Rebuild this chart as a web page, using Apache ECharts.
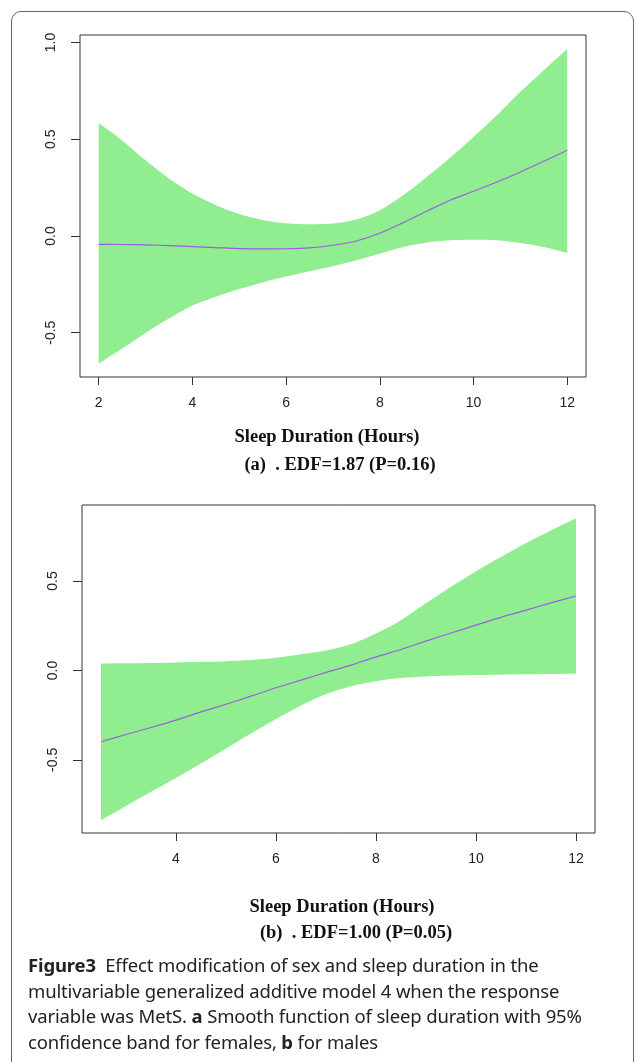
<!DOCTYPE html>
<html>
<head>
<meta charset="utf-8">
<script src="https://cdn.jsdelivr.net/npm/echarts@6/dist/echarts.min.js"></script>
<style>
  html, body { margin: 0; padding: 0; background: #fff; }
  #wrap { position: relative; width: 636px; height: 1062px; overflow: hidden; background: #fff; }
  #chart { position: absolute; left: 0; top: 0; width: 636px; height: 1062px; }
  #frame { position: absolute; left: 11px; top: 11px; width: 621px; height: 1100px;
           border: 1.5px solid #666; border-radius: 10px; pointer-events: none; }
  #caption { position: absolute; left: 28px; top: 952px; font-family: "Noto Sans", sans-serif;
             font-size: 18.5px; line-height: 25.5px; color: #222; white-space: nowrap; letter-spacing: -0.15px; }
</style>
</head>
<body>
<div id="wrap">
  <div id="frame"></div>
  <div id="chart"></div>
  <div id="caption"><b>Figure3</b>&nbsp; Effect modification of sex and sleep duration in the<br>multivariable generalized additive model 4 when the response<br>variable was MetS. <b>a</b> Smooth function of sleep duration with 95%<br>confidence band for females, <b>b</b> for males</div>
</div>
<script>
// ---- Panel (a): females ----
const hoursA = [2, 2.5, 3, 3.5, 4, 4.5, 5, 5.5, 6, 6.5, 7, 7.5, 8, 8.5, 9, 9.5, 10, 10.5, 11, 11.5, 12];
const fitA   = [-0.043, -0.044, -0.046, -0.050, -0.055, -0.060, -0.065, -0.067, -0.066, -0.061, -0.048, -0.026, 0.014, 0.069, 0.128, 0.185, 0.231, 0.279, 0.331, 0.386, 0.443];
const upperA = [0.584, 0.494, 0.391, 0.297, 0.219, 0.159, 0.114, 0.083, 0.066, 0.061, 0.064, 0.085, 0.133, 0.210, 0.305, 0.405, 0.512, 0.624, 0.745, 0.857, 0.968];
const lowerA = [-0.660, -0.582, -0.501, -0.427, -0.360, -0.314, -0.274, -0.240, -0.210, -0.182, -0.156, -0.126, -0.091, -0.057, -0.034, -0.022, -0.019, -0.022, -0.036, -0.057, -0.088];
const xTicksA = [2, 4, 6, 8, 10, 12];
const yTicksA = [-0.5, 0.0, 0.5, 1.0];

// ---- Panel (b): males ----
const hoursB = [2.5, 3, 3.5, 4, 4.5, 5, 5.5, 6, 6.5, 7, 7.5, 8, 8.5, 9, 9.5, 10, 10.5, 11, 11.5, 12];
const fitB   = [-0.399, -0.358, -0.319, -0.278, -0.232, -0.189, -0.144, -0.097, -0.054, -0.011, 0.030, 0.076, 0.117, 0.164, 0.209, 0.253, 0.297, 0.337, 0.378, 0.416];
const upperB = [0.039, 0.040, 0.042, 0.045, 0.048, 0.052, 0.058, 0.071, 0.091, 0.112, 0.147, 0.207, 0.281, 0.375, 0.468, 0.555, 0.634, 0.712, 0.783, 0.851];
const lowerB = [-0.838, -0.758, -0.679, -0.601, -0.521, -0.437, -0.353, -0.272, -0.196, -0.132, -0.088, -0.060, -0.043, -0.034, -0.029, -0.026, -0.024, -0.022, -0.020, -0.017];
const xTicksB = [4, 6, 8, 10, 12];
const yTicksB = [-0.5, 0.0, 0.5];

const xTitle = 'Sleep Duration (Hours)';
const subA = '(a)  . EDF=1.87 (P=0.16)';
const subB = '(b)  . EDF=1.00 (P=0.05)';

const BAND = '#90EE90';
const LINE = '#9a5ee0';
const AXIS = '#333';
const tickFont = { fontFamily: 'Liberation Sans', fontSize: 14, color: '#222' };

function pairs(xs, ys) { return xs.map((x, i) => [x, ys[i]]); }

function xAxis(grid, min, max, ticks) {
  return {
    type: 'value', gridIndex: grid, min: min, max: max,
    axisLine: { show: false, onZero: false }, splitLine: { show: false },
    axisTick: { show: true, customValues: ticks, length: 8, lineStyle: { color: AXIS, width: 1 } },
    axisLabel: Object.assign({ customValues: ticks, margin: 19, formatter: v => String(v) }, tickFont)
  };
}
function yAxis(grid, min, max, ticks) {
  return {
    type: 'value', gridIndex: grid, min: min, max: max,
    axisLine: { show: false, onZero: false }, splitLine: { show: false },
    axisTick: { show: true, customValues: ticks, length: 9, lineStyle: { color: AXIS, width: 1 } },
    axisLabel: Object.assign({ customValues: ticks, margin: 22, rotate: 90, formatter: v => v.toFixed(1) }, tickFont)
  };
}
function bandSeries(idx, xs, up, lo, fit) {
  return [
    { type: 'custom', xAxisIndex: idx, yAxisIndex: idx, silent: true, z: 1,
      data: xs.map((x, i) => [x, lo[i], up[i]]),
      encode: { x: 0, y: [1, 2] },
      renderItem: function (params, api) {
        if (params.dataIndex !== 0) return null;
        const n = xs.length, pts = [];
        // upper edge (ends doubled so the smoothed outline keeps sharp vertical ends)
        for (let j = 0; j < n; j++) {
          const p = api.coord([xs[j], up[j]]);
          pts.push(p);
          if (j === 0 || j === n - 1) pts.push(p.slice());
        }
        for (let j = n - 1; j >= 0; j--) {
          const p = api.coord([xs[j], lo[j]]);
          pts.push(p);
          if (j === 0 || j === n - 1) pts.push(p.slice());
        }
        return { type: 'polygon', shape: { points: pts, smooth: 0.3 }, style: { fill: BAND, stroke: null } };
      }
    },
    { type: 'line', xAxisIndex: idx, yAxisIndex: idx, data: pairs(xs, fit), symbol: 'none', smooth: 0.3,
      lineStyle: { color: LINE, width: 1.2 }, silent: true, z: 3 }
  ];
}
function label(text, x, y) {
  return { type: 'text', x: x, y: y, style: { text: text, fill: '#111',
    font: 'bold 18.5px "Liberation Serif", serif', textAlign: 'center', textVerticalAlign: 'middle' } };
}

const chart = echarts.init(document.getElementById('chart'), null, { renderer: 'canvas' });
chart.setOption({
  animation: false,
  backgroundColor: 'transparent',
  grid: [
    { left: 80, top: 35, width: 506, height: 342, show: true, borderColor: AXIS, borderWidth: 1, backgroundColor: 'transparent' },
    { left: 82, top: 505, width: 513, height: 328, show: true, borderColor: AXIS, borderWidth: 1, backgroundColor: 'transparent' }
  ],
  xAxis: [ xAxis(0, 1.6, 12.4, xTicksA), xAxis(1, 2.12, 12.38, xTicksB) ],
  yAxis: [ yAxis(0, -0.729, 1.039, yTicksA), yAxis(1, -0.909, 0.925, yTicksB) ],
  series: [].concat(
    bandSeries(0, hoursA, upperA, lowerA, fitA),
    bandSeries(1, hoursB, upperB, lowerB, fitB)
  ),
  graphic: [
    label(xTitle, 327, 437),
    label(subA, 340, 465),
    label(xTitle, 342, 907),
    label(subB, 356, 933)
  ]
});
</script>
</body>
</html>
